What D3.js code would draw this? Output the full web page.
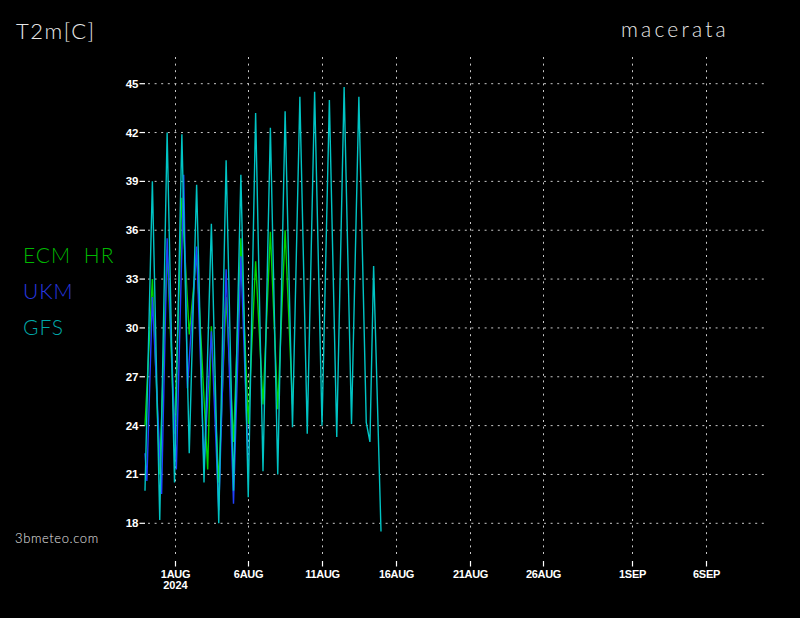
<!DOCTYPE html>
<html><head><meta charset="utf-8">
<script src="https://cdn.jsdelivr.net/npm/d3@7/dist/d3.min.js"></script>
<style>html,body{margin:0;padding:0;background:#000;}svg{display:block;}</style>
</head><body>
<svg id="chart" width="800" height="618"></svg>
<script>
// ---- data (hours from 2024-08-01 00 UTC, temperature °C) ----
const gfsHours = [-48,-36,-24,-12,0,12,24,36,48,60,72,84,96,108,120,132,144,156,168,180,192,204,216,228,240,252,264,276,288,300,312,318,324,336];
const gfsTemp  = [20.0,39.0,18.2,42.0,20.5,41.9,22.3,38.8,20.5,36.4,18.0,40.3,20.0,39.4,19.6,43.2,21.2,42.3,21.0,43.3,23.9,44.2,23.5,44.5,24.0,44.0,23.3,44.8,24.1,44.2,24.2,23.0,33.8,17.5];
const ukmHours = [-48,-45,-36,-21,-12,3,15,21,36,48,60,72,84,96,108,120];
const ukmTemp  = [22.3,20.6,31.9,19.8,35.5,21.3,39.4,26.3,35.0,21.5,29.8,18.8,33.6,19.2,34.4,21.5];
const ecmHours = [-48,-36,-24,-12,0,12,24,36,54,60,72,84,96,108,120,132,144,156,168,180,192];
const ecmTemp  = [24.0,33.0,21.0,34.8,23.5,38.0,29.6,34.5,21.3,30.1,20.5,31.9,23.0,35.5,24.1,34.1,25.3,35.9,25.0,36.0,25.3];
const yTicks = [18,21,24,27,30,33,36,39,42,45];
const xTickDates = ["2024-08-01","2024-08-06","2024-08-11","2024-08-16","2024-08-21","2024-08-26","2024-09-01","2024-09-06"];
const xTickLabels = ["1AUG","6AUG","11AUG","16AUG","21AUG","26AUG","1SEP","6SEP"];
const seriesNames = ["ECM HR","UKM","GFS"];
const seriesColors = ["#00d400","#2040ff","#00c4c4"];
const legendColors = ["#00b800","#2838e0","#00a8a8"];

const svg = d3.select("#chart");
svg.append("rect").attr("width",800).attr("height",618).attr("fill","#000");

const t0 = Date.UTC(2024,7,1);
const x = d3.scaleUtc().domain([new Date(t0), new Date(Date.UTC(2024,8,6))]).range([174.5, 705.5]);
const y = d3.scaleLinear().domain([18,45]).range([523.3,83.7]);
const hx = h => x(new Date(t0 + h*3600e3));

const gridColor = "#c8c8c8";
const axisFont = "Liberation Sans, Arial, sans-serif";
// horizontal grid
const gy = svg.append("g");
yTicks.forEach(v => {
  gy.append("line").attr("x1",148).attr("x2",765).attr("y1",y(v)).attr("y2",y(v))
    .attr("stroke",gridColor).attr("stroke-width",1).attr("stroke-dasharray","2,4.6");
  gy.append("line").attr("x1",139.5).attr("x2",145).attr("y1",y(v)).attr("y2",y(v))
    .attr("stroke","#fff").attr("stroke-width",1.2);
  gy.append("text").attr("x",138.5).attr("y",y(v)+4).attr("text-anchor","end")
    .attr("fill","#fff").attr("font-family",axisFont)
    .attr("font-weight","bold").attr("font-size",11.5).text(v);
});
// vertical grid
const gx = svg.append("g");
xTickDates.forEach((d,i) => {
  const xv = Math.round(x(new Date(d+"T00:00:00Z")))+0.5;
  gx.append("line").attr("x1",xv).attr("x2",xv).attr("y1",57).attr("y2",558)
    .attr("stroke",gridColor).attr("stroke-width",1).attr("stroke-dasharray","2,4.6");
  gx.append("line").attr("x1",xv).attr("x2",xv).attr("y1",561).attr("y2",566.5)
    .attr("stroke","#fff").attr("stroke-width",1.2);
  gx.append("text").attr("x",xv).attr("y",577.5).attr("text-anchor","middle")
    .attr("fill","#fff").attr("font-family",axisFont)
    .attr("font-weight","bold").attr("font-size",11).attr("letter-spacing",-0.3).text(xTickLabels[i]);
  if (i===0) gx.append("text").attr("x",xv).attr("y",589).attr("text-anchor","middle")
    .attr("fill","#fff").attr("font-family",axisFont)
    .attr("font-weight","bold").attr("font-size",11).text("2024");
});

// lines
const line = d3.line().x(d=>hx(d[0])).y(d=>y(d[1]));
const series = [
  ecmHours.map((h,i)=>[h,ecmTemp[i]]),
  ukmHours.map((h,i)=>[h,ukmTemp[i]]),
  gfsHours.map((h,i)=>[h,gfsTemp[i]])
];
series.forEach((s,i)=>{
  svg.append("path").datum(s).attr("d",line).attr("fill","none")
    .attr("stroke",seriesColors[i]).attr("stroke-width",1.4).attr("stroke-linejoin","miter");
});

// titles
const lightFont = "Lato, 'Open Sans', 'DejaVu Sans', sans-serif";
svg.append("text").attr("x",16).attr("y",39).attr("fill","#e8e8e8")
  .attr("font-family",lightFont).attr("font-weight",300).attr("font-size",22)
  .attr("letter-spacing",1.5).text("T2m[C]");
svg.append("text").attr("x",621).attr("y",37).attr("fill","#e8e8e8")
  .attr("font-family",lightFont).attr("font-weight",300).attr("font-size",21)
  .attr("letter-spacing",3.2).text("macerata");
svg.append("text").attr("x",15).attr("y",543).attr("fill","#e8e8e8")
  .attr("font-family",lightFont).attr("font-weight",300).attr("font-size",13)
  .attr("letter-spacing",0.6).text("3bmeteo.com");

// legend
const legY = [262.5,298.5,334.5];
seriesNames.forEach((n,i)=>{
  svg.append("text").attr("x",23).attr("y",legY[i]).attr("fill",legendColors[i])
    .attr("font-family",lightFont).attr("font-weight",300).attr("font-size",21)
    .attr("letter-spacing",1).attr("word-spacing",6).text(n);
});
</script>
</body></html>
